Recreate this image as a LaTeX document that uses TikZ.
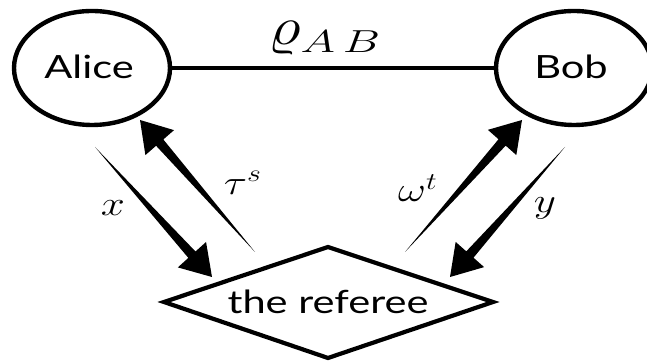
\documentclass[tikz,border=0pt]{standalone}
\usepackage{graphicx}
\usepackage{fontspec}
\setmainfont{Lato}
\usetikzlibrary{calc,shapes.geometric}
\newcommand\widetext[1]{\scalebox{1.3}[1]{\fontsize{16pt}{19pt}\selectfont #1}}
\newcommand\widemath[1]{\scalebox{1.25}[1]{\fontsize{18.5pt}{22pt}\selectfont $#1$}}
\newcommand\wedgearrow[2]{%
  \coordinate (wb) at ($(#2)!15pt!(#1)$);
  \fill (#1) -- ($(wb)!2.4pt!90:(#2)$) -- ($(wb)!9.5pt!90:(#2)$) -- (#2)
    -- ($(wb)!9.5pt!-90:(#2)$) -- ($(wb)!2.4pt!-90:(#2)$) -- cycle;}
\tikzset{
  party/.style={ellipse, draw, line width=2.2pt, minimum width=78pt, minimum height=57pt, inner sep=0pt},
  lbl/.style={inner sep=0pt}
}
\begin{document}
\begin{tikzpicture}[x=0.5pt,y=-0.5pt]
\useasboundingbox (0,0) rectangle (647,362);
\clip (0,0) rectangle (647,362);
\node[party] (alice) at (92,68) {};
\node[party] (bob) at (574,68) {};
\node[lbl] (alicet) at (89,67) {\widetext{Alice}};
\node[lbl] (bobt) at (571,67) {\widetext{Bob}};
\draw[line width=2pt] (alice) -- (bob);
\node[lbl] (rho) at (325,38) {\scalebox{1.55}[1.3]{\fontsize{22pt}{26pt}\selectfont $\varrho_{\scalebox{1.05}[0.85]{$\scriptstyle A\,B$}}$}};
\node[lbl] (ref) at (328,302) {\widetext{the referee}};
\draw[line width=2.1pt, line join=miter] ($(ref.center)+(-164,0)$) -- ($(ref.center)+(0,-55)$) -- ($(ref.center)+(165,0)$) -- ($(ref.center)+(0,56)$) -- cycle;
\coordinate (xt) at (95,147);  \coordinate (xh) at (212,277);
\coordinate (tt) at (255,252); \coordinate (th) at (140,120);
\coordinate (wt) at (405,252); \coordinate (wh) at (522,120);
\coordinate (yt) at (565,147); \coordinate (yh) at (450,277);
\wedgearrow{xt}{xh}
\wedgearrow{tt}{th}
\wedgearrow{wt}{wh}
\wedgearrow{yt}{yh}
\node[lbl] (xl) at (113,208) {\widemath{x}};
\node[lbl] (tl) at (243,183) {\widemath{\tau^s}};
\node[lbl] (wl) at (418,188) {\widemath{\omega^t}};
\node[lbl] (yl) at (545,208) {\widemath{y}};
\end{tikzpicture}
\end{document}
